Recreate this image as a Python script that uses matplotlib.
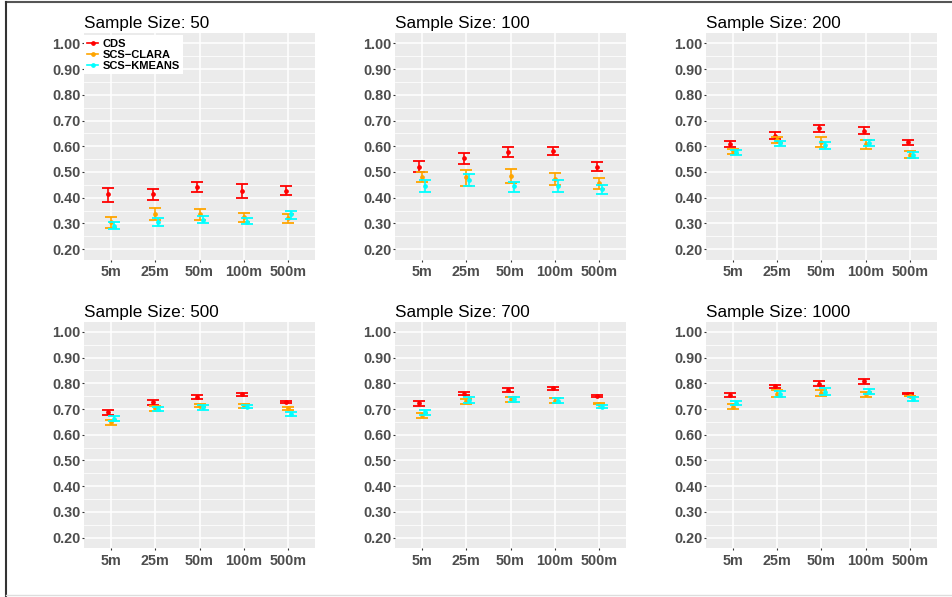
import numpy as np
import matplotlib.pyplot as plt
from matplotlib.lines import Line2D

plt.rcParams['font.family'] = ['Liberation Sans', 'DejaVu Sans']

sample_sizes = [50, 100, 200, 500, 700, 1000]
windows = ['5m', '25m', '50m', '100m', '500m']
methods = ['CDS', 'SCS\u2212CLARA', 'SCS\u2212KMEANS']
colors = ['#FF0000', '#FFA500', '#00FFFF']

# rows = sample sizes, cols = windows
cds_mean = [[0.414, 0.414, 0.441, 0.427, 0.428],
            [0.521, 0.553, 0.577, 0.581, 0.521],
            [0.608, 0.641, 0.669, 0.660, 0.615],
            [0.687, 0.728, 0.747, 0.757, 0.728],
            [0.724, 0.760, 0.774, 0.780, 0.751],
            [0.756, 0.789, 0.799, 0.807, 0.760]]
cds_lo = [[0.385, 0.390, 0.424, 0.398, 0.410],
          [0.499, 0.532, 0.558, 0.565, 0.503],
          [0.597, 0.628, 0.656, 0.647, 0.604],
          [0.677, 0.717, 0.739, 0.751, 0.724],
          [0.713, 0.754, 0.768, 0.773, 0.748],
          [0.748, 0.782, 0.791, 0.799, 0.757]]
cds_hi = [[0.437, 0.435, 0.460, 0.453, 0.444],
          [0.542, 0.573, 0.597, 0.597, 0.537],
          [0.619, 0.654, 0.681, 0.674, 0.625],
          [0.697, 0.735, 0.755, 0.763, 0.732],
          [0.733, 0.767, 0.781, 0.786, 0.754],
          [0.763, 0.795, 0.807, 0.815, 0.763]]

clara_mean = [[0.305, 0.337, 0.336, 0.324, 0.320],
              [0.482, 0.479, 0.485, 0.473, 0.459],
              [0.581, 0.624, 0.615, 0.607, 0.567],
              [0.650, 0.702, 0.713, 0.712, 0.703],
              [0.676, 0.730, 0.737, 0.733, 0.721],
              [0.709, 0.760, 0.763, 0.757, 0.751]]
clara_lo = [[0.284, 0.314, 0.314, 0.305, 0.303],
            [0.463, 0.447, 0.457, 0.449, 0.435],
            [0.571, 0.612, 0.597, 0.591, 0.555],
            [0.639, 0.691, 0.706, 0.703, 0.697],
            [0.667, 0.721, 0.729, 0.724, 0.719],
            [0.699, 0.748, 0.752, 0.748, 0.750]]
clara_hi = [[0.324, 0.359, 0.355, 0.342, 0.336],
            [0.499, 0.508, 0.512, 0.498, 0.478],
            [0.590, 0.636, 0.634, 0.623, 0.580],
            [0.659, 0.712, 0.721, 0.720, 0.708],
            [0.685, 0.739, 0.745, 0.742, 0.722],
            [0.720, 0.772, 0.772, 0.765, 0.752]]

kmeans_mean = [[0.290, 0.306, 0.315, 0.307, 0.336],
               [0.444, 0.470, 0.444, 0.446, 0.433],
               [0.576, 0.611, 0.603, 0.612, 0.566],
               [0.663, 0.700, 0.707, 0.708, 0.680],
               [0.687, 0.735, 0.737, 0.733, 0.709],
               [0.725, 0.760, 0.768, 0.768, 0.739]]
kmeans_lo = [[0.278, 0.290, 0.301, 0.296, 0.318],
             [0.422, 0.447, 0.423, 0.422, 0.416],
             [0.565, 0.602, 0.591, 0.600, 0.554],
             [0.654, 0.691, 0.698, 0.702, 0.672],
             [0.677, 0.725, 0.729, 0.724, 0.703],
             [0.717, 0.748, 0.755, 0.760, 0.733]]
kmeans_hi = [[0.305, 0.320, 0.328, 0.320, 0.350],
             [0.467, 0.493, 0.463, 0.470, 0.450],
             [0.585, 0.620, 0.615, 0.623, 0.577],
             [0.671, 0.708, 0.715, 0.715, 0.687],
             [0.697, 0.745, 0.745, 0.741, 0.715],
             [0.733, 0.770, 0.780, 0.776, 0.745]]

means = [cds_mean, clara_mean, kmeans_mean]
lows = [cds_lo, clara_lo, kmeans_lo]
highs = [cds_hi, clara_hi, kmeans_hi]
dodge = [-0.05, 0.0, 0.07]

W, H = 953, 597
fig = plt.figure(figsize=(W / 100, H / 100), dpi=100)

col_left = [84, 395, 706]
row_top = [33, 321.5]
ax_w, ax_h = 231, 226.5

yticks = np.arange(0.2, 1.01, 0.1)
x = np.arange(1, len(windows) + 1)

for p, n in enumerate(sample_sizes):
    r, c = divmod(p, 3)
    l = col_left[c]
    t = row_top[r]
    ax = fig.add_axes([l / W, 1 - (t + ax_h) / H, ax_w / W, ax_h / H])
    ax.set_facecolor('#EBEBEB')
    for s in ax.spines.values():
        s.set_visible(False)
    ax.set_xlim(0.4, 5.6)
    ax.set_ylim(0.16, 1.04)
    ax.set_yticks(yticks)
    ax.set_yticks(np.arange(0.25, 1.0, 0.1), minor=True)
    ax.set_yticklabels(['%.2f' % v for v in yticks])
    ax.set_xticks(x)
    ax.set_xticklabels(windows)
    ax.grid(True, which='major', color='white', linewidth=1.1)
    ax.grid(True, which='minor', axis='y', color='white', linewidth=0.55)
    ax.set_axisbelow(True)
    ax.tick_params(which='major', length=1.6, width=0.8, color='#333333',
                   labelsize=10.4, labelcolor='#4D4D4D', pad=1)
    ax.tick_params(which='minor', length=0)
    for lab in ax.get_xticklabels() + ax.get_yticklabels():
        lab.set_fontweight('bold')
    ax.tick_params(axis='x', pad=2.5)

    for m in range(3):
        mu = np.array(means[m][p])
        lo = np.array(lows[m][p])
        hi = np.array(highs[m][p])
        ax.errorbar(x + dodge[m], mu, yerr=[mu - lo, hi - mu], fmt='o',
                    color=colors[m], ms=2.4, elinewidth=1.2, capsize=4,
                    capthick=1.3, zorder=3 + m)

    ax.set_title('Sample Size: %d' % n, loc='left', fontsize=12.3, pad=3.5,
                 color='black')

    if p == 0:
        handles = [Line2D([], [], color=colors[m], marker='o', ms=2.4, lw=1.2)
                   for m in range(3)]
        leg = ax.legend(handles, methods, loc='upper left',
                        bbox_to_anchor=(0.0, 0.99), frameon=True,
                        fancybox=False, framealpha=1, edgecolor='white',
                        prop={'weight': 'bold', 'size': 8},
                        handlelength=1.0, handletextpad=0.4,
                        labelspacing=0.1, borderpad=0.3, borderaxespad=0.0)
        leg.get_frame().set_linewidth(0)

# outer frame
fig.add_artist(Line2D([6 / W, 1], [1 - 2 / H, 1 - 2 / H], color='#555555', lw=1.5))
fig.add_artist(Line2D([6 / W, 6 / W], [0, 1 - 2 / H], color='#333333', lw=1.5))
fig.add_artist(Line2D([6 / W, 1], [2 / H, 2 / H], color='#DDDDDD', lw=1.0))

fig.savefig('out.png', dpi=100)
